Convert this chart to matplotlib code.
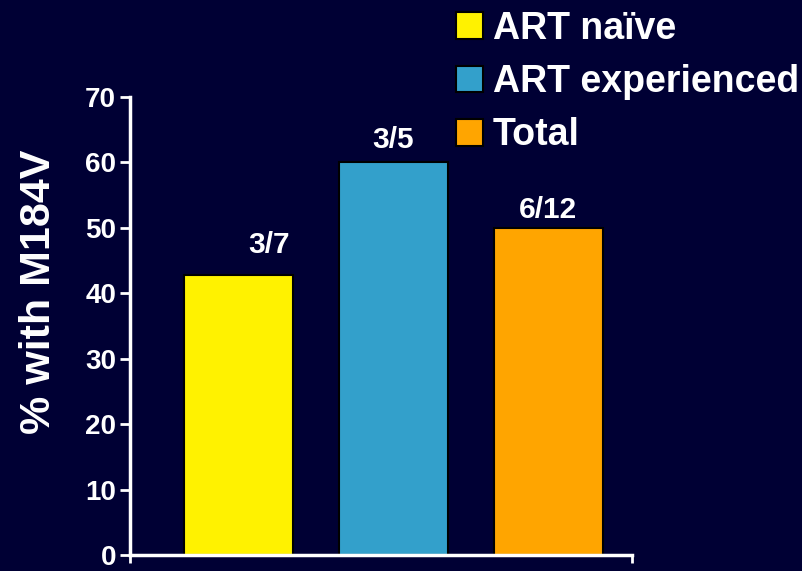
import matplotlib.pyplot as plt
from matplotlib.patches import Patch

plt.rcParams['font.family'] = ['Liberation Sans', 'DejaVu Sans']
plt.rcParams['font.weight'] = 'bold'

groups = ['ART naïve', 'ART experienced', 'Total']
pct = [42.86, 60.0, 50.0]
counts = ['3/7', '3/5', '6/12']
colors = ['#FFF200', '#33A0CB', '#FFA500']
yticks = [0, 10, 20, 30, 40, 50, 60, 70]

bg = '#000034'
fig = plt.figure(figsize=(8.03, 5.71), dpi=100, facecolor=bg)
ax = fig.add_axes([0.162, 0.028, 0.625, 0.802], facecolor=bg)

x = range(len(groups))
ax.bar(x, pct, width=0.70, color=colors, edgecolor='black', linewidth=1.5)

# count labels over the bars, placement nudged by hand
dx = [0.2, 0.0, 0.0]
dy = [4.6, 3.5, 2.8]
for i, (v, c) in enumerate(zip(pct, counts)):
    ax.text(i + dx[i], v + dy[i], c, ha='center', va='center',
            color='white', fontsize=21.5, fontweight='bold')

ax.set_xlim(-0.70, 2.54)
ax.set_ylim(0, 70)
ax.set_yticks(yticks)
ax.set_xticks([-0.70, 2.54])
ax.set_xticklabels([])
ax.tick_params(axis='y', colors='white', labelsize=20, length=7, width=2, pad=3)
ax.tick_params(axis='x', colors='white', length=6, width=2)
for s in ['top', 'right']:
    ax.spines[s].set_visible(False)
for s in ['left', 'bottom']:
    ax.spines[s].set_color('white')
    ax.spines[s].set_linewidth(2.5)

ax.set_ylabel('% with M184V', color='white', fontsize=31, fontweight='bold', va='center')
ax.yaxis.set_label_coords(-0.181, 0.574)

handles = [Patch(facecolor=c, edgecolor='black', linewidth=1.5) for c in colors]
leg = fig.legend(handles, groups, loc='upper left', bbox_to_anchor=(0.535, 1.027),
                 frameon=False, fontsize=27, handlelength=0.72, handleheight=0.72,
                 handletextpad=0.27, labelspacing=0.46, borderpad=0.2)
for t in leg.get_texts():
    t.set_color('white')

fig.savefig('out.png', dpi=100, facecolor=bg)
